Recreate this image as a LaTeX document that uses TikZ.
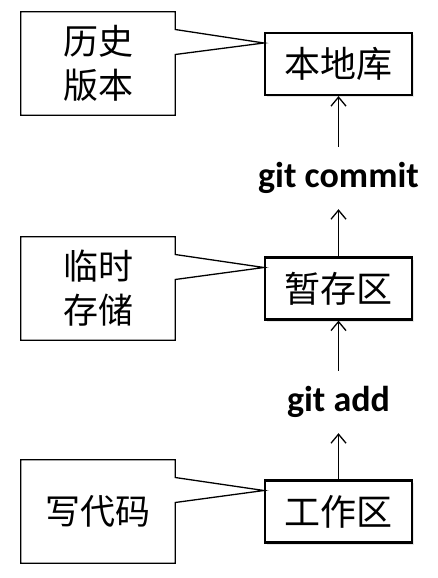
\documentclass[tikz,border=0pt]{standalone}
\usepackage{fontspec}
\setmainfont{Carlito}
\newfontfamily\cjk{Noto Sans CJK SC}
\usetikzlibrary{arrows.meta,shadows}

\begin{document}
\begin{tikzpicture}[x=1pt, y=-1pt,
   box/.style={draw, line width=2.2pt, minimum width=147pt, minimum height=62pt, inner sep=0pt,
      drop shadow={opacity=.2, shadow xshift=2pt, shadow yshift=-2pt},
      fill=white, font=\cjk\fontsize{36}{40}\selectfont},
   note/.style={minimum width=154pt, minimum height=103pt, inner sep=0pt, align=center,
      font=\cjk\fontsize{35}{44}\selectfont},
   cmd/.style={minimum height=62pt, inner sep=0pt, font=\bfseries\fontsize{36}{40}\selectfont},
   up/.style={-{Straight Barb[length=9pt,width=15pt]}, line width=1.3pt}]
\useasboundingbox (0,0) rectangle (438,578);

% the three areas
\node[box] (repo) at (338.5,64) {本地库};
\node[box] (stage) at (338.5,288.5) {暂存区};
\node[box] (work) at (338.5,511.5) {工作区};

% commands between them
\node[cmd] (commit) at (338.5,178) {git commit};
\node[cmd] (add) at (338.5,402) {git add};

\draw[up] (work) -- (add);
\draw[up] (add) -- (stage);
\draw[up] (stage) -- (commit);
\draw[up] (commit) -- (repo);

% callouts
\node[note] (hist) at (98,63.5) {历史\\版本};
\node[note] (temp) at (98,288.5) {临时\\存储};
\node[note] (code) at (98,511.5) {写代码};

\foreach \n/\b in {hist/repo, temp/stage, code/work}
   \draw[line width=1.3pt, line join=miter] ([yshift=34pt]\n.east) -- ([yshift=21pt]\b.west)
      -- ([yshift=9pt]\n.east) -- (\n.south east) -- (\n.south west)
      -- (\n.north west) -- (\n.north east) -- cycle;

\end{tikzpicture}
\end{document}
